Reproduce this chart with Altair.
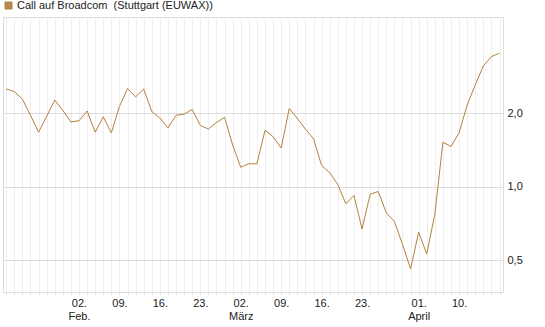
import altair as alt
import pandas as pd

series_name = "Call auf Broadcom\u00a0\u00a0(Stuttgart (EUWAX))"

prices = [2.51, 2.45, 2.28, 1.96, 1.67, 1.94, 2.26, 2.05, 1.84, 1.86,
          2.04, 1.67, 1.93, 1.66, 2.13, 2.52, 2.33, 2.51, 2.03, 1.91,
          1.74, 1.96, 1.98, 2.07, 1.78, 1.72, 1.83, 1.92, 1.48, 1.20,
          1.24, 1.24, 1.70, 1.60, 1.44, 2.09, 1.90, 1.72, 1.57, 1.22,
          1.14, 1.02, 0.85, 0.92, 0.67, 0.93, 0.955, 0.78, 0.72, 0.58,
          0.46, 0.65, 0.53, 0.77, 1.52, 1.46, 1.66, 2.16, 2.61, 3.12,
          3.41, 3.52]
day_index = list(range(len(prices)))

tick_idx = [9, 14, 19, 24, 29, 34, 39, 44, 51, 56]
tick_day = ["02.", "09.", "16.", "23.", "02.", "09.", "16.", "23.", "01.", "10."]
tick_month = ["Feb.", "", "", "", "März", "", "", "", "April", ""]

y_ticks = [0.5, 1.0, 2.0]

df = pd.DataFrame({"i": day_index, "v": prices, "s": [series_name] * len(prices)})

expr = "''"
for idx, d, m in reversed(list(zip(tick_idx, tick_day, tick_month))):
    lab = f"['{d}', '{m}']" if m else f"'{d}'"
    expr = f"datum.value == {idx} ? {lab} : ({expr})"

FONT = "Liberation Sans"

chart = alt.Chart(df).mark_line(strokeWidth=1, interpolate="linear").encode(
    x=alt.X("i:Q",
            scale=alt.Scale(domain=[-0.4, 61.43], nice=False, zero=False),
            axis=alt.Axis(values=day_index, labelExpr=expr, title=None,
                          grid=True, gridColor="#eeeeee", gridWidth=1,
                          ticks=True, tickSize=2, tickColor="#dddddd",
                          domain=False, labelOverlap=False, labelFlush=False,
                          labelPadding=3, labelFontSize=11, labelFont=FONT,
                          labelColor="#222222", labelLineHeight=13)),
    y=alt.Y("v:Q",
            scale=alt.Scale(type="log", domain=[0.37, 4.95], nice=False),
            axis=alt.Axis(orient="right", values=y_ticks, title=None,
                          labelExpr="replace(format(datum.value, '.1f'), '.', ',')",
                          grid=True, gridColor="#dddddd", ticks=False,
                          domain=False, labelPadding=4, labelFontSize=11,
                          labelFont=FONT, labelColor="#222222")),
    color=alt.Color("s:N", scale=alt.Scale(range=["#b3823b"]),
                    legend=alt.Legend(orient="none", legendX=0, legendY=-17,
                                      title=None, symbolType="square",
                                      symbolSize=49, symbolFillColor="#b8894a",
                                      symbolStrokeWidth=1, labelOffset=3,
                                      labelFontSize=11, labelFont=FONT,
                                      labelColor="#222222", padding=0,
                                      labelLimit=400)),
).properties(
    width=500, height=275,
    autosize=alt.AutoSizeParams(type="none"),
    padding={"left": 3, "top": 17, "right": 42, "bottom": 35},
).configure_view(stroke="#d8d8d8", strokeWidth=1).configure(background="white")

chart.save("out.html", embed_options={"renderer": "svg", "actions": False})
